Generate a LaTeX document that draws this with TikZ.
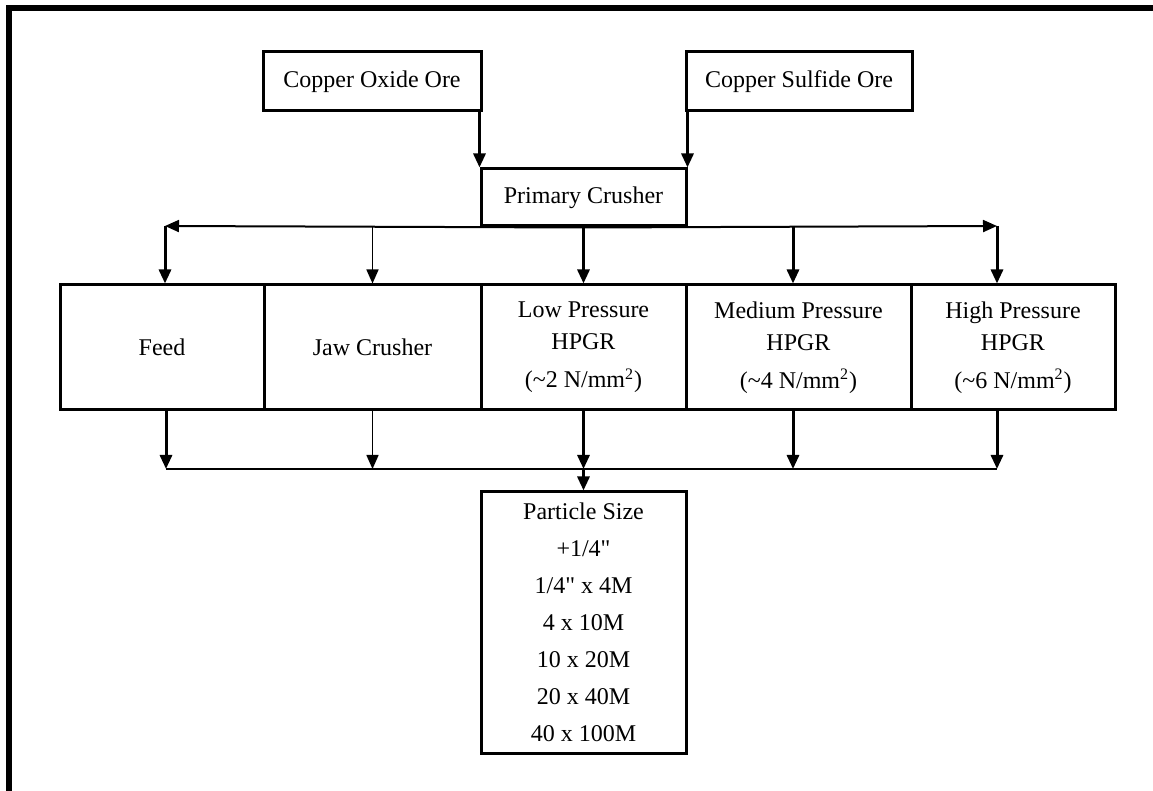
\documentclass[tikz,border=0pt]{standalone}
\usepackage{fontspec}
\setmainfont{Liberation Serif}
\usetikzlibrary{arrows.meta}
\begin{document}
\begin{tikzpicture}[x=0.5pt,y=-0.5pt,
  box/.style={draw,line width=1.5pt,inner sep=0pt,align=center,font=\fontsize{12}{16}\selectfont},
  tip/.style={-{Triangle[length=7pt,width=6pt]}},
  thk/.style={tip,line width=1.5pt},
  thn/.style={tip,line width=0.75pt},
  bus/.style={tip,line width=1pt}]
\useasboundingbox (0,0) rectangle (1153,791);
% frame
\draw[line width=3pt] (9,791) -- (9,8) -- (1153,8);
% top boxes
\node[box,minimum width=109pt,minimum height=29.5pt] (co) at (372,81.5) {Copper Oxide Ore};
\node[box,minimum width=113pt,minimum height=29.5pt] (cs) at (799,81.5) {Copper Sulfide Ore};
\node[box,minimum width=102.5pt,minimum height=28.5pt] (pc) at (583.5,197.5) {Primary Crusher};
% row boxes
\node[box,minimum width=102pt,minimum height=62.5pt] (feed) at (162,347.5) {Feed};
\node[box,minimum width=108.5pt,minimum height=62.5pt] (jaw) at (372.5,347.5) {Jaw Crusher};
\node[box,minimum width=102.5pt,minimum height=62.5pt] (low) at (583.5,347.5) {Low Pressure\\HPGR\\[3pt](\textasciitilde2 N/mm\textsuperscript{2})};
\node[box,minimum width=112.5pt,minimum height=62.5pt] (med) at (798.5,347.5) {Medium Pressure\\HPGR\\[3pt](\textasciitilde4 N/mm\textsuperscript{2})};
\node[box,minimum width=102pt,minimum height=62.5pt] (high) at (1013,347.5) {High Pressure\\HPGR\\[3pt](\textasciitilde6 N/mm\textsuperscript{2})};
% particle size
\node[box,minimum width=102.5pt,minimum height=130.5pt,font=\fontsize{12}{18.5}\selectfont] (ps) at (583.5,622.5)
  {Particle Size\\+1/4\textquotedbl\\1/4\textquotedbl{} x 4M\\4 x 10M\\10 x 20M\\20 x 40M\\40 x 100M};
% coordinates
\coordinate (L1) at (165,226);
\coordinate (R1) at (997,226);
\coordinate (M1) at (793,226);
\coordinate (B1) at (166,469);
\coordinate (B5) at (997,469);
\coordinate (BM) at (793,469);
% top arrows
\draw[thk] (pc.north west |- co.south) -- (pc.north west);
\draw[thk] (pc.north east |- cs.south) -- (pc.north east);
% distribution
\draw[bus] (pc.south) -- (L1);
\draw[bus] (pc.south) -- (R1);
\draw[thk] (L1) -- (L1 |- feed.north);
\draw[thn] (jaw.north |- pc.south) -- (jaw.north);
\draw[thk] (pc.south) -- (low.north);
\draw[thk] (M1) -- (M1 |- med.north);
\draw[thk] (R1) -- (R1 |- high.north);
% collection
\draw[line width=0.6pt] (B1) -- (B5);
\draw[thk] (B1 |- feed.south) -- (B1);
\draw[thn] (jaw.south) -- (jaw.south |- B1);
\draw[thk] (low.south) -- (low.south |- B1);
\draw[thk] (BM |- med.south) -- (BM);
\draw[thk] (B5 |- high.south) -- (B5);
\draw[thk] (low.south |- B1) -- (ps.north);
\end{tikzpicture}
\end{document}
